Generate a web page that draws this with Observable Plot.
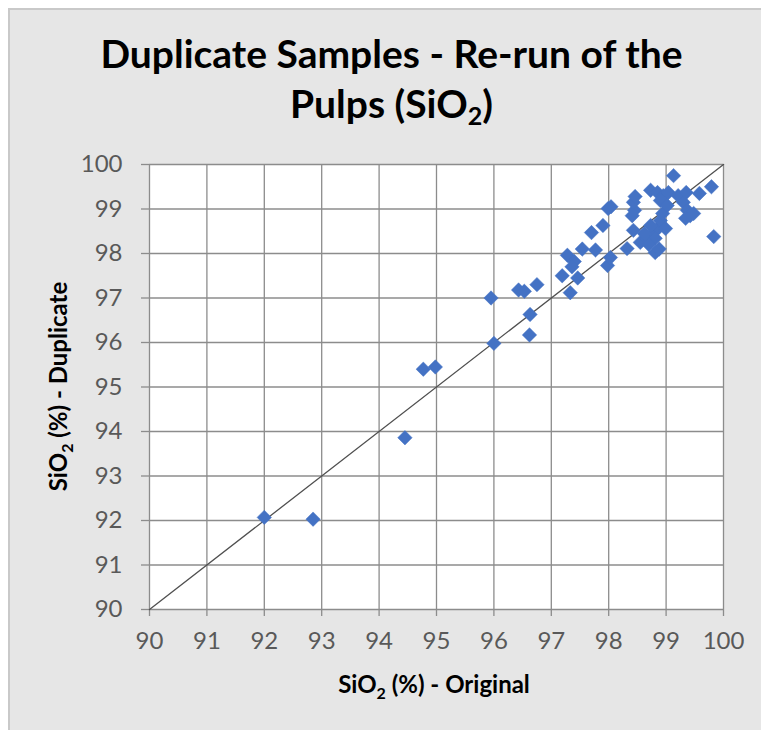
<!DOCTYPE html>
<html>
<head>
<meta charset="utf-8">
<script src="https://cdn.jsdelivr.net/npm/d3@7"></script>
<script src="https://cdn.jsdelivr.net/npm/@observablehq/plot@0.6"></script>
<style>
  html, body { margin: 0; padding: 0; background: #ffffff; }
  #frame {
    position: absolute; left: 8px; top: 8px; width: 760px; height: 730px;
    background: #e6e6e6; border-top: 2px solid #c9c9c9; border-left: 2px solid #c9c9c9;
    box-sizing: border-box; overflow: hidden;
  }
  #title {
    position: absolute; left: 0; top: 0; width: 761px; height: 140px;
    font-family: Lato, "Open Sans", sans-serif; font-weight: bold; font-size: 39px;
    color: #000; text-align: center; line-height: 50px; padding-top: 28px; box-sizing: border-box;
    padding-left: 22px;
  }
  #title sub { font-size: 25px; vertical-align: -7px; line-height: 0; }
  #chart { position: absolute; left: 0; top: 140px; }
</style>
</head>
<body>
<div id="frame"></div>
<div id="title">Duplicate Samples - Re-run of the<br>Pulps (SiO<sub>2</sub>)</div>
<div id="chart"></div>
<script>
// SiO2 (%) original assay vs duplicate (re-run of the pulps)
const original = [
  92.00, 92.85, 94.45, 94.77, 94.98, 95.95, 96.00, 96.43, 96.53, 96.75,
  96.63, 96.62, 97.19, 97.33, 97.28, 97.40, 97.46, 97.36, 97.54, 97.77,
  97.98, 98.03, 97.70, 97.90, 97.99, 98.04, 98.32, 98.43, 98.41, 98.45,
  98.43, 98.46, 98.55, 98.67, 98.73, 98.85, 98.95, 99.04, 99.13, 98.81,
  98.78, 98.87, 98.90, 98.94, 98.73, 98.81, 98.99, 98.90, 99.02, 99.21,
  99.30, 99.37, 99.42, 99.34, 99.48, 99.35, 99.58, 99.79, 99.83, 98.62,
  98.88, 98.70
];
const duplicate = [
  92.07, 92.03, 93.86, 95.40, 95.45, 97.00, 95.98, 97.18, 97.15, 97.30,
  96.63, 96.17, 97.50, 97.12, 97.96, 97.82, 97.45, 97.70, 98.10, 98.08,
  97.73, 97.91, 98.47, 98.63, 99.01, 99.05, 98.11, 98.52, 98.85, 98.97,
  99.15, 99.28, 98.25, 98.34, 99.42, 99.37, 99.30, 99.37, 99.75, 98.02,
  98.47, 98.58, 98.74, 98.90, 98.63, 98.34, 98.56, 99.19, 99.08, 99.30,
  99.15, 98.97, 98.85, 98.79, 98.90, 99.37, 99.35, 99.50, 98.38, 98.45,
  98.10, 98.20
];
const axisTicks = [90, 91, 92, 93, 94, 95, 96, 97, 98, 99, 100];
const identityLine = [90, 100];

const points = original.map((x, i) => ({x, y: duplicate[i]}));
const diag = identityLine.map(v => ({x: v, y: v}));

const gridColor = "#8c8c8c";
const font = "Lato, 'Open Sans', sans-serif";

const chart = Plot.plot({
  width: 761,
  height: 590,
  marginLeft: 149,
  marginRight: 38,
  marginTop: 24,
  marginBottom: 121,
  style: {fontFamily: font, fontSize: "24px", color: "#595959", background: "transparent", overflow: "visible"},
  x: {domain: [90, 100]},
  y: {domain: [90, 100]},
  marks: [
    Plot.frame({fill: "white", stroke: null}),
    Plot.gridX(axisTicks, {stroke: gridColor, strokeOpacity: 1, strokeWidth: 1.3}),
    Plot.gridY(axisTicks, {stroke: gridColor, strokeOpacity: 1, strokeWidth: 1.3}),
    Plot.axisX(axisTicks, {tickSize: 7, tickPadding: 15, stroke: gridColor, strokeWidth: 1.3, label: null, tickFormat: d => d, fill: "#595959", fontSize: 24}),
    Plot.axisY(axisTicks, {tickSize: 8, stroke: gridColor, strokeWidth: 1.3, label: null, tickFormat: () => ""}),
    Plot.text(axisTicks, {x: () => 90, y: d => d, text: d => String(d), textAnchor: "end", dx: -27, fill: "#595959", fontSize: 24}),
    Plot.line(diag, {x: "x", y: "y", stroke: "#505050", strokeWidth: 1.3}),
    Plot.dot(points, {x: "x", y: "y", symbol: "diamond2", r: 6.5, fill: "#4472c4", stroke: "#4472c4", strokeWidth: 0.5})
  ]
});
document.getElementById("chart").appendChild(chart);

// Axis titles with real subscripts
const svg = d3.select(chart);
const xt = svg.append("text")
  .attr("x", 434).attr("y", 553)
  .attr("text-anchor", "middle")
  .attr("font-family", font)
  .attr("font-weight", "bold").attr("font-size", 24).attr("fill", "#000");
xt.append("tspan").text("SiO");
xt.append("tspan").attr("font-size", 16).attr("dy", 6).text("2");
xt.append("tspan").attr("dy", -6).text(" (%) - Original");

const yt = svg.append("text")
  .attr("transform", "translate(67,246.5) rotate(-90)")
  .attr("text-anchor", "middle")
  .attr("font-family", font)
  .attr("font-weight", "bold").attr("font-size", 24).attr("fill", "#000");
yt.append("tspan").text("SiO");
yt.append("tspan").attr("font-size", 16).attr("dy", 6).text("2");
yt.append("tspan").attr("dy", -6).text(" (%) - Duplicate");
</script>
</body>
</html>
